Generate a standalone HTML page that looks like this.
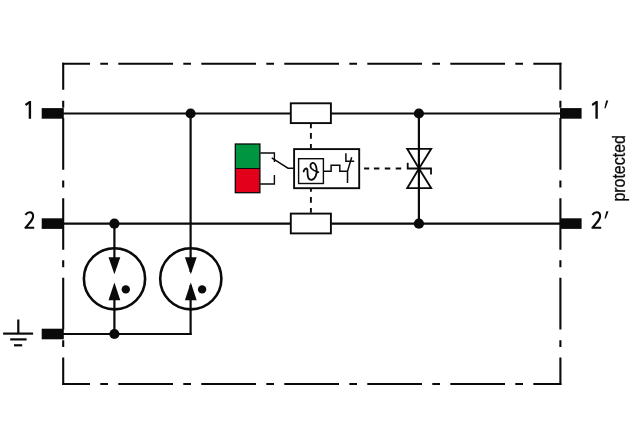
<!DOCTYPE html>
<html>
<head>
<meta charset="utf-8">
<title>Circuit diagram</title>
<style>
html,body{margin:0;padding:0;background:#fff;}
body{width:640px;height:448px;overflow:hidden;font-family:"Liberation Sans",sans-serif;}
svg{display:block;}
text{font-family:"Liberation Sans",sans-serif;fill:#0a0a0a;}
</style>
</head>
<body>
<svg width="640" height="448" viewBox="0 0 640 448">
<rect x="0" y="0" width="640" height="448" fill="#ffffff"/>

<!-- dash-dot enclosure -->
<g stroke="#0a0a0a" stroke-width="2.1" fill="none" stroke-linecap="butt">
  <!-- top -->
  <path d="M62.2 63.7H90 M100.3 63.7H108 M118.3 63.7H173 M183.3 63.7H191 M201.3 63.7H256 M266.3 63.7H274 M284.3 63.7H339 M349.3 63.7H357 M367.3 63.7H422 M432.3 63.7H440 M450.3 63.7H505 M515.3 63.7H523 M533.3 63.7H561.4"/>
  <!-- bottom -->
  <path d="M62.2 384H90 M100.3 384H108 M118.3 384H173 M183.3 384H191 M201.3 384H256 M266.3 384H274 M284.3 384H339 M349.3 384H357 M367.3 384H422 M432.3 384H440 M450.3 384H505 M515.3 384H523 M533.3 384H561.4"/>
  <!-- left -->
  <path d="M63.2 62.7V89.7 M63.2 100.7V107.7 M63.2 118V169.7 M63.2 180.6V187.5 M63.2 198.2V249.7 M63.2 260.3V267.3 M63.2 277.8V329.6 M63.2 340.2V347 M63.2 357.6V385"/>
  <!-- right -->
  <path d="M560.4 62.7V89.7 M560.4 100.7V107.7 M560.4 118V169.7 M560.4 180.6V187.5 M560.4 198.2V249.7 M560.4 260.3V267.3 M560.4 277.8V329.6 M560.4 340.2V347 M560.4 357.6V385"/>
</g>

<!-- terminals -->
<g fill="#0a0a0a">
  <rect x="41.7" y="108.1" width="22.1" height="10.6"/>
  <rect x="41.7" y="218.3" width="22.1" height="10.6"/>
  <rect x="41.7" y="328.7" width="22.1" height="10.6"/>
  <rect x="560" y="108.1" width="21.6" height="10.6"/>
  <rect x="560" y="218.3" width="21.6" height="10.6"/>
</g>

<!-- main wires -->
<g stroke="#0a0a0a" stroke-width="2.2" fill="none">
  <path d="M63 113.5H290.5 M331.2 113.5H560.5"/>
  <path d="M63 223.7H290.5 M331.2 223.7H560.5"/>
  <path d="M63 334H191.6"/>
  <path d="M190.6 113.5V335"/>
  <path d="M114.4 223.7V258 M114.4 300V334"/>
  <path d="M418.9 113.5V223.7"/>
</g>

<!-- junction dots -->
<g fill="#0a0a0a">
  <circle cx="190.6" cy="113.5" r="5.1"/>
  <circle cx="114.4" cy="223.7" r="5.1"/>
  <circle cx="114.4" cy="334" r="5.1"/>
  <circle cx="418.9" cy="113.5" r="5.1"/>
  <circle cx="418.9" cy="223.7" r="5.1"/>
</g>

<!-- gas discharge tubes -->
<g stroke="#0a0a0a" stroke-width="2.6" fill="none">
  <circle cx="114.5" cy="278.8" r="30.6"/>
  <circle cx="190.8" cy="278.8" r="30.6"/>
</g>
<g fill="#0a0a0a">
  <!-- white gap behind arrow gap for 2nd tube line -->
  <rect x="188" y="272" width="6" height="13" fill="#ffffff"/>
  <path d="M108.5 257.2H120.3L114.4 274.3Z"/>
  <path d="M108.5 300.3H120.3L114.4 282.6Z"/>
  <path d="M184.9 257.2H196.7L190.8 274.3Z"/>
  <path d="M184.9 300.3H196.7L190.8 282.6Z"/>
  <circle cx="125.8" cy="289.4" r="4.2"/>
  <circle cx="202.1" cy="289.4" r="4.2"/>
</g>

<!-- resistors -->
<g stroke="#0a0a0a" stroke-width="1.9" fill="#ffffff">
  <rect x="290.8" y="103.3" width="40.1" height="19.8"/>
  <rect x="290.8" y="213.6" width="40.1" height="19.8"/>
</g>

<!-- dashed mechanical links -->
<g stroke="#0a0a0a" stroke-width="1.9" fill="none">
  <path d="M310.9 123.9V128.3 M310.9 133V138.8 M310.9 143.9V148.3"/>
  <path d="M310.9 189V191.8 M310.9 196.9V202.7 M310.9 208.1V212.8"/>
  <path d="M364.1 168.5H369.2 M373.9 168.5H379.4 M384.8 168.5H390.3 M395.7 168.5H401.2" stroke-width="1.9"/>
</g>

<!-- relay / thermal box -->
<g stroke="#0a0a0a" fill="none">
  <rect x="294.1" y="149.1" width="65.1" height="39.1" stroke-width="1.9" fill="#ffffff"/>
  <rect x="298.6" y="158.7" width="24.8" height="24.8" stroke-width="1.4"/>
  <path d="M323.4 171.3H331.1V165.2H339.8V171.3H347.5" stroke-width="1.5"/>
  <path d="M347.5 183V171.3L351.7 157.2" stroke-width="1.5"/>
  <path d="M345.9 153.3V161.2H354.2" stroke-width="1.5"/>
  <!-- theta -->
  <path d="M303.6 171.5C304.4 168.6 306.8 167.3 307.4 169.8C308 172.6 306.2 179.6 311.2 179.8C315.2 179.8 317.4 173.5 316.6 168.8C316 165.2 314.3 162.6 312.5 162.9C310.4 163.3 309.6 166.4 311.4 168.5C313.2 170.5 316.3 171.6 318.3 172.2" stroke-width="1.8" stroke-linecap="round"/>
</g>

<!-- indicator -->
<rect x="235.3" y="144" width="24.6" height="24.5" fill="#009540"/>
<rect x="235.3" y="168.5" width="24.6" height="24.2" fill="#e2001a"/>
<path d="M235.3 168.5H259.9" stroke="#0a0a0a" stroke-width="1" fill="none"/>
<rect x="235.3" y="144" width="24.6" height="48.7" fill="none" stroke="#0a0a0a" stroke-width="1.3"/>
<g stroke="#0a0a0a" stroke-width="1.4" fill="none">
  <path d="M260.3 153H274.4V162"/>
  <path d="M260.3 184H274.4V175"/>
  <path d="M271.7 157.8L288 168.2H293.5"/>
</g>

<!-- TVS diode -->
<g stroke="#0a0a0a" stroke-width="1.8" fill="none" stroke-linejoin="miter">
  <path d="M407.2 148.8H431.2L419 168.5Z"/>
  <path d="M407.2 188.2H431.2L419 168.5Z"/>
  <path d="M407.7 162.7V168.5H431V174.4"/>
</g>

<!-- earth symbol -->
<g stroke="#0a0a0a" stroke-width="2.2" fill="none">
  <path d="M18.3 319.5V333.6"/>
  <path d="M3.1 333.6H33.1"/>
  <path d="M10.2 339.4H26.6"/>
  <path d="M14 345.3H22.2"/>
</g>

<!-- labels -->
<g stroke="#0a0a0a" stroke-width="2.1" fill="none" stroke-linejoin="round">
  <path d="M25.4 214.9C26.6 213.2 28 212.3 29.7 212.3C32.2 212.3 33.1 214.2 33.1 216.3C33.1 219.5 30.4 222.4 25.4 227.8H34.2"/>
  <path d="M592.4 214.9C593.6 213.2 595 212.3 596.7 212.3C599.2 212.3 600.1 214.2 600.1 216.3C600.1 219.5 597.4 222.4 592.4 227.8H601.2"/>
</g>
<g fill="#0a0a0a">
  <path d="M31.1 101V118.8H28.7V104L26.1 106L24.9 104.1L29.3 101Z"/>
  <path d="M597.8 101V118.8H595.4V104L592.8 106L591.6 104.1L596 101Z"/>
  <path d="M606.2 100.6H608.3L605.6 108.2H604.3Z"/>
  <path d="M606.4 211.2H608.5L605.8 218.4H604.5Z"/>
</g>
<text font-size="18.5" style="filter:grayscale(1)" stroke="#0a0a0a" stroke-width="0.3" transform="translate(625 201.6) rotate(-90) scale(0.862 1)">protected</text>
</svg>
</body>
</html>
